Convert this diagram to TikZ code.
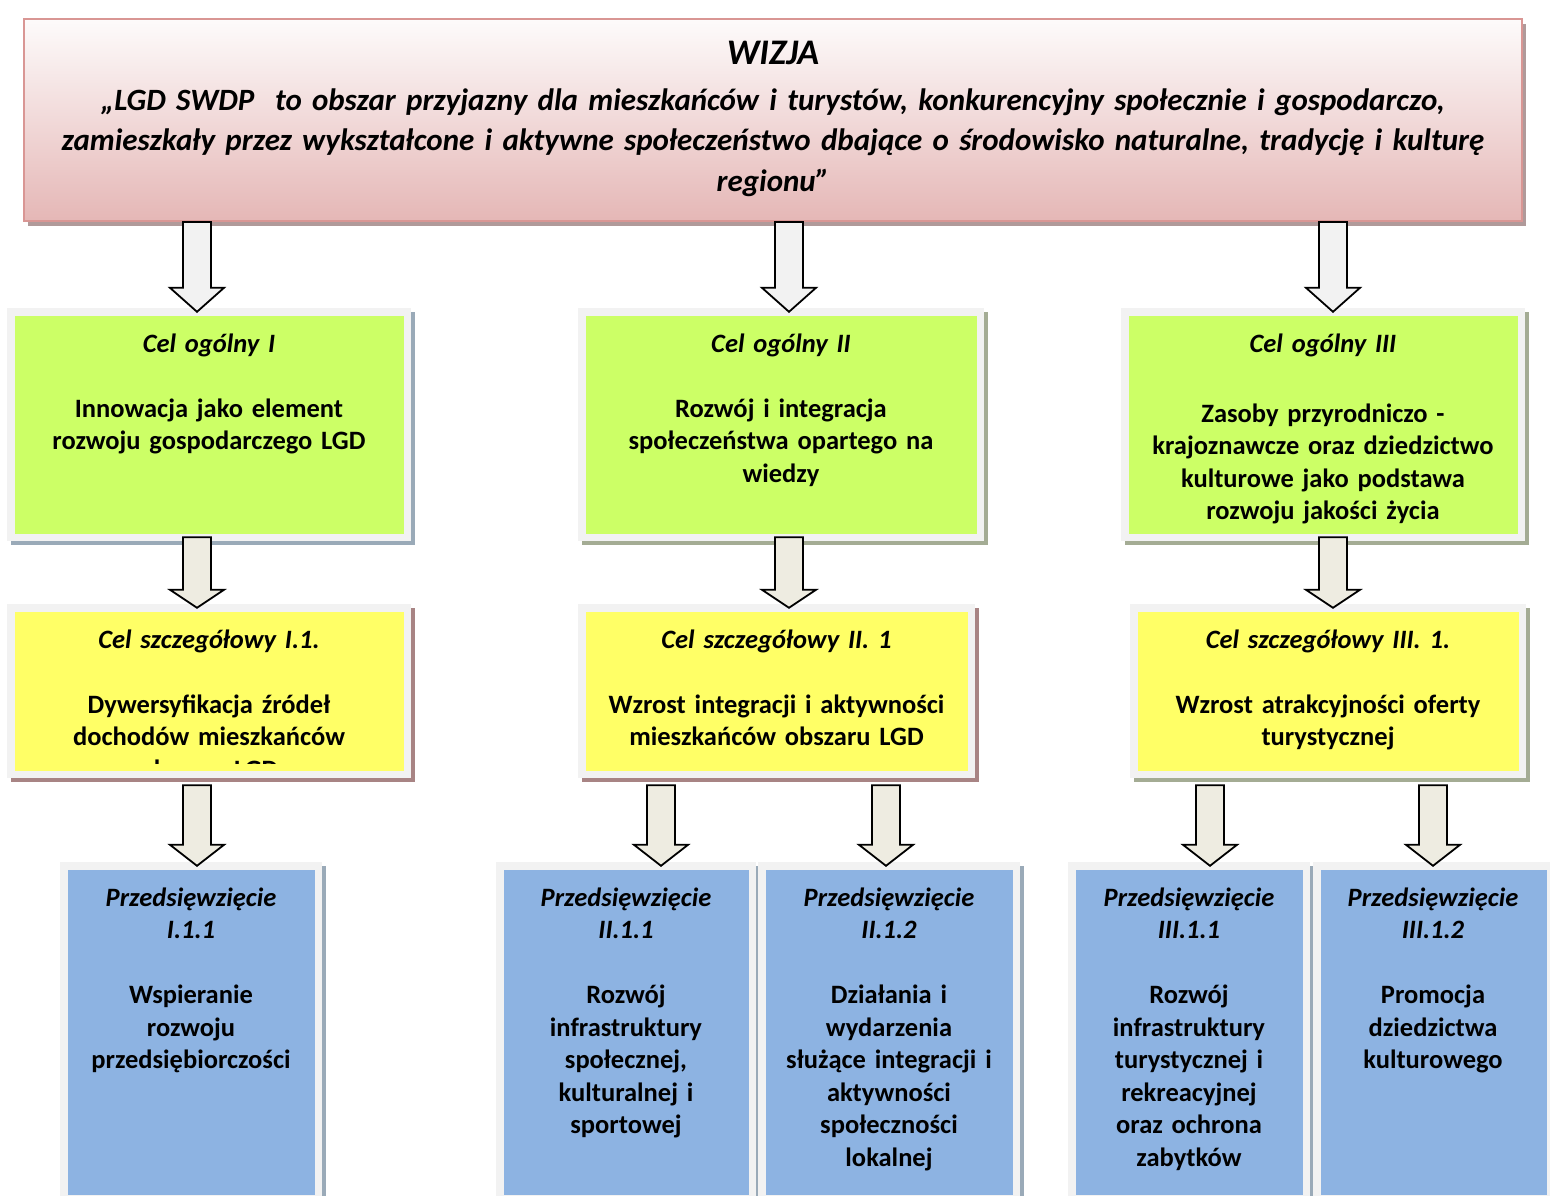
\documentclass[tikz,border=0pt]{standalone}
\usepackage{fontspec}
\setmainfont{Carlito}
\usetikzlibrary{calc,shadows}
\definecolor{frameg}{HTML}{F2F2F2}
\definecolor{greenf}{HTML}{CCFF66}
\definecolor{yellowf}{HTML}{FFFF66}
\definecolor{bluef}{HTML}{8DB3E2}
\definecolor{pinkb}{HTML}{D99694}
\definecolor{pinkbot}{HTML}{E5B7B6}
\definecolor{pinktop}{HTML}{FDFBFB}
\definecolor{shblue}{HTML}{9AAAB8}
\definecolor{shred}{HTML}{A88484}
\definecolor{shgreen}{HTML}{A4AC94}
\definecolor{shpink}{HTML}{B09A9A}
\definecolor{arrowA}{HTML}{F2F2F2}
\definecolor{arrowB}{HTML}{EEECE1}
\tikzset{
  goalbox/.style 2 args={rectangle, inner sep=0pt, fill=frameg,
    path picture={\fill[#1] ([shift={(7.5pt,-7.5pt)}]path picture bounding box.north west)
      rectangle ([shift={(-7.5pt,7.5pt)}]path picture bounding box.south east);},
    general shadow={fill=#2, shadow xshift=4pt, shadow yshift=-4pt}},
  visionbox/.style={rectangle, inner sep=0pt, draw=pinkb, line width=2pt,
    top color=pinktop, bottom color=pinkbot,
    general shadow={fill=shpink, shadow xshift=4pt, shadow yshift=-5pt}},
  boxtext/.style={text width=#1, align=center, anchor=base, inner sep=0pt,
    font=\fontsize{26.5}{32.5}\selectfont\bfseries},
  visiontext/.style={text width=1490pt, align=center, anchor=base, inner sep=0pt,
    font=\fontsize{31}{40.5}\selectfont\bfseries\itshape},
  arrowline/.style={draw=black, line width=1.8pt, line join=miter}
}
% block arrow: #1 start, #2 tip, #3 head length, #4 fill colour
\newcommand\blockarrow[4]{%
  \path #1 coordinate (bas) #2 coordinate (bae);
  \draw[arrowline, fill=#4] let \p1=(bas), \p2=(bae) in
    (\x1-14pt,\y1) -- (\x1+14pt,\y1) -- (\x1+14pt,\y2+#3) -- (\x1+27pt,\y2+#3)
    -- (\x1,\y2) -- (\x1-27pt,\y2+#3) -- (\x1-14pt,\y2+#3) -- cycle;}
\begin{document}
\begin{tikzpicture}[x=1pt,y=-1pt]
\useasboundingbox[fill=white] (0,0) rectangle (1550,1195);
% column coordinates
\coordinate (x1) at (197,0);
\coordinate (x2) at (789,0);
\coordinate (x3) at (1333,0);
\coordinate (x21) at (661,0);
\coordinate (x22) at (886,0);
\coordinate (x31) at (1210,0);
\coordinate (x32) at (1433,0);

% vision box
\node[visionbox, minimum width=1498pt, minimum height=202pt] (top) at (773,120) {};
\node[visiontext, font=\fontsize{36}{40}\selectfont\bfseries\itshape] (wizja) at (773,64.5) {WIZJA};
\node[visiontext] (vtext) at (773,110) {„LGD SWDP\ \ to obszar przyjazny dla mieszkańców i turystów, konkurencyjny społecznie i gospodarczo,\\
zamieszkały przez wykształcone i aktywne społeczeństwo dbające o środowisko naturalne, tradycję i kulturę\\
regionu”};

% general goals
\node[goalbox={greenf}{shblue}, minimum width=404pt, minimum height=233pt] (g1) at (209,424.5) {};
\node[goalbox={greenf}{shgreen}, minimum width=406pt, minimum height=233pt] (g2) at (781,424.5) {};
\node[goalbox={greenf}{shgreen}, minimum width=404pt, minimum height=233pt] (g3) at (1323,424.5) {};
\node[boxtext=385pt] (g1t) at (209,352) {\textit{Cel ogólny I}\\[32.5pt]
  Innowacja jako element\\ rozwoju gospodarczego LGD};
\node[boxtext=385pt] (g2t) at (781,352) {\textit{Cel ogólny II}\\[32.5pt]
  Rozwój i integracja\\ społeczeństwa opartego na\\ wiedzy};
\node[boxtext=385pt] (g3t) at (1323,352) {\textit{Cel ogólny III}\\[37.5pt]
  Zasoby przyrodniczo -\\ krajoznawcze oraz dziedzictwo\\ kulturowe jako podstawa\\ rozwoju jakości życia};

% specific goals
\node[goalbox={yellowf}{shred}, minimum width=404pt, minimum height=174pt] (y1) at (209,691) {};
\node[goalbox={yellowf}{shred}, minimum width=397pt, minimum height=174pt] (y2) at (776.5,691) {};
\node[goalbox={yellowf}{shgreen}, minimum width=396pt, minimum height=174pt] (y3) at (1328,691) {};
\begin{scope}
  \clip (14.5,611.5) rectangle (403.5,763);
  \node[boxtext=385pt] (y1t) at (209,648) {\textit{Cel szczegółowy I.1.}\\[32.5pt]
    Dywersyfikacja źródeł\\ dochodów mieszkańców\\ obszaru LGD};
\end{scope}
\node[boxtext=380pt] (y2t) at (776.5,648) {\textit{Cel szczegółowy II. 1}\\[32.5pt]
  Wzrost integracji i aktywności\\ mieszkańców obszaru LGD};
\node[boxtext=380pt] (y3t) at (1328,648) {\textit{Cel szczegółowy III. 1.}\\[32.5pt]
  Wzrost atrakcyjności oferty\\ turystycznej};

% projects
\node[goalbox={bluef}{shblue}, minimum width=262pt, minimum height=340pt] (b1) at (191,1032) {};
\node[goalbox={bluef}{shblue}, minimum width=260pt, minimum height=340pt] (b2) at (626,1032) {};
\node[goalbox={bluef}{shblue}, minimum width=262pt, minimum height=340pt] (b3) at (889,1032) {};
\node[goalbox={bluef}{shblue}, minimum width=242pt, minimum height=340pt] (b4) at (1189,1032) {};
\node[goalbox={bluef}{shblue}, minimum width=241pt, minimum height=340pt] (b5) at (1433.5,1032) {};
\node[boxtext=240pt] (b1t) at (191,906) {\textit{Przedsięwzięcie\\ I.1.1}\\[32.5pt]
  Wspieranie\\ rozwoju\\ przedsiębiorczości};
\node[boxtext=240pt] (b2t) at (626,906) {\textit{Przedsięwzięcie\\ II.1.1}\\[32.5pt]
  Rozwój\\ infrastruktury\\ społecznej,\\ kulturalnej i\\ sportowej};
\node[boxtext=245pt] (b3t) at (889,906) {\textit{Przedsięwzięcie\\ II.1.2}\\[32.5pt]
  Działania i\\ wydarzenia\\ służące integracji i\\ aktywności\\ społeczności\\ lokalnej};
\node[boxtext=225pt] (b4t) at (1189,906) {\textit{Przedsięwzięcie\\ III.1.1}\\[32.5pt]
  Rozwój\\ infrastruktury\\ turystycznej i\\ rekreacyjnej\\ oraz ochrona\\ zabytków};
\node[boxtext=225pt] (b5t) at (1433,906) {\textit{Przedsięwzięcie\\ III.1.2}\\[32.5pt]
  Promocja\\ dziedzictwa\\ kulturowego};

% arrows: vision -> general goals
\blockarrow{(top.south -| x1)}{($(g1.north -| x1)+(0,4)$)}{24pt}{arrowA}
\blockarrow{(top.south -| x2)}{($(g2.north -| x2)+(0,4)$)}{24pt}{arrowA}
\blockarrow{(top.south -| x3)}{($(g3.north -| x3)+(0,4)$)}{24pt}{arrowA}
% general -> specific
\blockarrow{($(g1.south -| x1)+(0,-4)$)}{($(y1.north -| x1)+(0,4)$)}{18pt}{arrowB}
\blockarrow{($(g2.south -| x2)+(0,-4)$)}{($(y2.north -| x2)+(0,4)$)}{18pt}{arrowB}
\blockarrow{($(g3.south -| x3)+(0,-4)$)}{($(y3.north -| x3)+(0,4)$)}{18pt}{arrowB}
% specific -> projects
\blockarrow{($(y1.south -| x1)+(0,7)$)}{($(b1.north -| x1)+(0,4)$)}{21pt}{arrowB}
\blockarrow{($(y2.south -| x21)+(0,7)$)}{($(b2.north -| x21)+(0,4)$)}{21pt}{arrowB}
\blockarrow{($(y2.south -| x22)+(0,7)$)}{($(b3.north -| x22)+(0,4)$)}{21pt}{arrowB}
\blockarrow{($(y3.south -| x31)+(0,7)$)}{($(b4.north -| x31)+(0,4)$)}{21pt}{arrowB}
\blockarrow{($(y3.south -| x32)+(0,7)$)}{($(b5.north -| x32)+(0,4)$)}{21pt}{arrowB}
\end{tikzpicture}
\end{document}
